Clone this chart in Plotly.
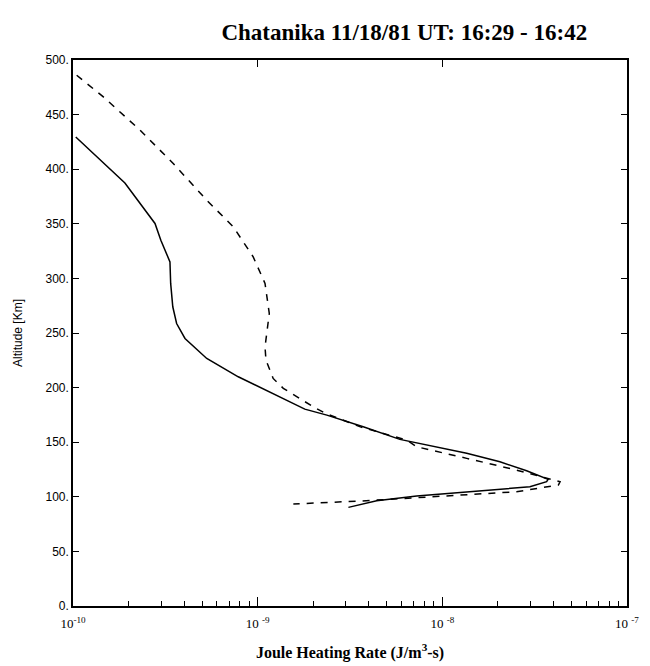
import plotly.graph_objects as go

# Solid curve (Joule heating rate, J/m^3-s) vs altitude (km)
solid_alt = [429.5, 403.6, 387.4, 350.3, 335.0, 315.1, 295.4, 274.0, 258.7, 245.0, 234.3,
             226.7, 209.9, 193.1, 180.3, 174.8, 164.1, 152.6, 139.8, 132.1, 123.8, 116.0,
             113.8, 109.2, 105.5, 100.7, 96.4, 90.3]
solid_rate = [1.035e-10, 1.52e-10, 1.91e-10, 2.78e-10, 2.99e-10, 3.35e-10, 3.38e-10, 3.47e-10,
              3.64e-10, 4.04e-10, 4.75e-10, 5.30e-10, 7.85e-10, 1.27e-9, 1.80e-9, 2.37e-9,
              3.73e-9, 5.89e-9, 1.355e-8, 2.05e-8, 2.86e-8, 3.74e-8, 3.67e-8, 2.98e-8,
              1.66e-8, 7.26e-9, 4.41e-9, 3.10e-9]

# Dashed curve
dashed_alt = [486.0, 466.2, 435.7, 405.2, 371.6, 347.2, 319.7, 295.4, 267.9, 246.5, 237.3,
              225.2, 208.4, 199.3, 182.4, 176.7, 164.0, 152.0, 145.8, 135.2, 124.5, 113.8,
              110.8, 104.6, 100.7, 97.0, 96.1, 93.4]
dashed_rate = [1.047e-10, 1.46e-10, 2.31e-10, 3.49e-10, 5.30e-10, 7.38e-10, 9.46e-10, 1.096e-9,
               1.156e-9, 1.12e-9, 1.096e-9, 1.109e-9, 1.213e-9, 1.377e-9, 2.00e-9, 2.31e-9,
               3.60e-9, 6.40e-9, 7.26e-9, 1.355e-8, 2.52e-8, 4.34e-8, 4.25e-8, 2.52e-8,
               1.10e-8, 4.79e-9, 3.58e-9, 1.56e-9]

y_ticks = [0, 50, 100, 150, 200, 250, 300, 350, 400, 450, 500]
y_ticktext = [f"{v}." for v in y_ticks]
x_major = [1e-10, 1e-9, 1e-8, 1e-7]
x_major_text = ["10<sup>-10</sup>", "10 <sup>-9</sup>", "10 <sup>-8</sup>", "10 <sup>-7</sup>"]
x_minor = [m * 10.0 ** e for e in (-10, -9, -8) for m in range(2, 10)]

fig = go.Figure()
fig.add_trace(go.Scatter(x=solid_rate, y=solid_alt, mode="lines",
                         line=dict(color="black", width=1.5), showlegend=False))
fig.add_trace(go.Scatter(x=dashed_rate, y=dashed_alt, mode="lines",
                         line=dict(color="black", width=1.5, dash="7px,7px"), showlegend=False))
# invisible traces to activate the top axis and the minor-tick axis
fig.add_trace(go.Scatter(x=[1e-10], y=[0], xaxis="x2", mode="markers",
                         marker=dict(opacity=0), showlegend=False, hoverinfo="skip"))
fig.add_trace(go.Scatter(x=[1e-10], y=[0], xaxis="x3", mode="markers",
                         marker=dict(opacity=0), showlegend=False, hoverinfo="skip"))

fig.update_layout(
    width=650, height=666,
    margin=dict(l=73, r=23, t=60, b=60),
    paper_bgcolor="white", plot_bgcolor="white",
    title=dict(text="<b>Chatanika 11/18/81 UT: 16:29 - 16:42</b>",
               font=dict(family="Liberation Serif", size=23, color="black"),
               x=0.622, xref="container", xanchor="center",
               y=1 - 32 / 666, yref="container", yanchor="middle"),
    xaxis=dict(type="log", range=[-10, -7], tickmode="array", tickvals=x_major,
               ticktext=x_major_text, ticks="inside", ticklen=9, tickcolor="black",
               showline=True, linecolor="black", linewidth=1.5, showgrid=False,
               zeroline=False, ticklabelstandoff=5, automargin=False,
               tickfont=dict(family="Liberation Serif", size=13, color="black"),
               title=dict(text="<b>Joule Heating Rate (J/m<sup>3</sup>-s)</b>",
                          font=dict(family="Liberation Serif", size=16, color="black"),
                          standoff=16)),
    xaxis2=dict(type="log", range=[-10, -7], overlaying="x", side="top",
                tickmode="array", tickvals=[1e-9, 1e-8], ticks="inside", ticklen=7,
                tickcolor="black", showticklabels=False, showgrid=False, automargin=False,
                showline=True, linecolor="black", linewidth=1.5, zeroline=False),
    xaxis3=dict(type="log", range=[-10, -7], overlaying="x", side="bottom",
                tickmode="array", tickvals=x_minor, ticks="inside", ticklen=5,
                tickcolor="black", showticklabels=False, showgrid=False, automargin=False,
                showline=False, zeroline=False),
    yaxis=dict(range=[0, 500], tickmode="array", tickvals=y_ticks, ticktext=y_ticktext,
               ticks="inside", ticklen=6, tickcolor="black", mirror="ticks",
               showline=True, linecolor="black", linewidth=1.5, showgrid=False,
               zeroline=False, automargin=False,
               tickfont=dict(family="Liberation Sans", size=12, color="black"),
               title=dict(text="Altitude [Km]",
                          font=dict(family="Liberation Sans", size=12, color="black"),
                          standoff=20)),
)

fig.write_html("out.html")
